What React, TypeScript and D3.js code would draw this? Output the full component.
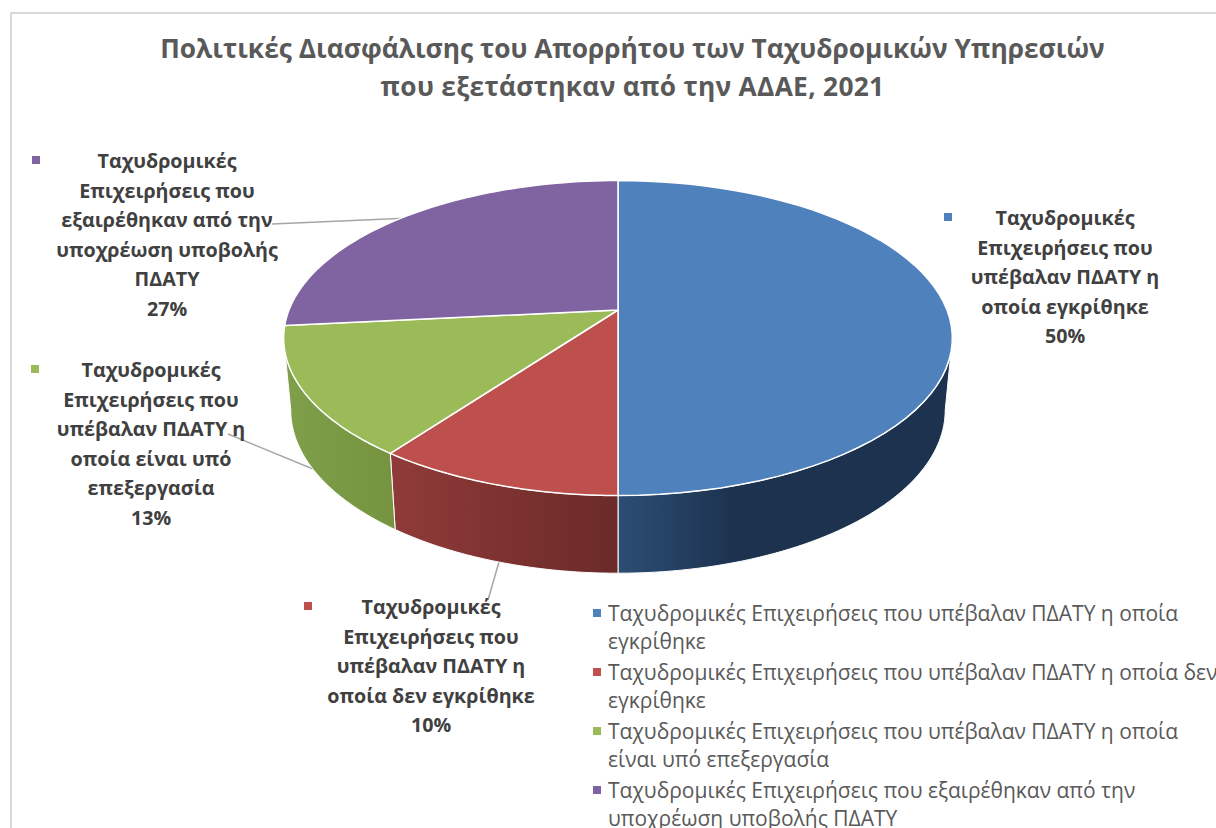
import React from 'react';
import * as d3 from 'd3';

const titleLines = [
  'Πολιτικές Διασφάλισης του Απορρήτου των Ταχυδρομικών Υπηρεσιών',
  'που εξετάστηκαν από την ΑΔΑΕ, 2021',
];
const shares = [50, 10.1, 13.3, 26.6];
const shareLabels = ['50%', '10%', '13%', '27%'];
const colors = ['#4f81bd', '#bd4f4c', '#9bbb59', '#8064a2'];
const sideStops = [
  ['#2c4e74', '#1c324f'],
  ['#903b39', '#6a2a28'],
  ['#7f9f4b', '#769440'],
  ['#5f4a7a', '#5f4a7a'],
];
const labelLines = [
  ['Ταχυδρομικές', 'Επιχειρήσεις που', 'υπέβαλαν ΠΔΑΤΥ η', 'οποία εγκρίθηκε'],
  ['Ταχυδρομικές', 'Επιχειρήσεις που', 'υπέβαλαν ΠΔΑΤΥ η', 'οποία δεν εγκρίθηκε'],
  ['Ταχυδρομικές', 'Επιχειρήσεις που', 'υπέβαλαν ΠΔΑΤΥ η', 'οποία είναι υπό', 'επεξεργασία'],
  ['Ταχυδρομικές', 'Επιχειρήσεις που', 'εξαιρέθηκαν από την', 'υποχρέωση υποβολής', 'ΠΔΑΤΥ'],
];
const legendLines = [
  ['Ταχυδρομικές Επιχειρήσεις που υπέβαλαν ΠΔΑΤΥ η οποία', 'εγκρίθηκε'],
  ['Ταχυδρομικές Επιχειρήσεις που υπέβαλαν ΠΔΑΤΥ η οποία δεν', 'εγκρίθηκε'],
  ['Ταχυδρομικές Επιχειρήσεις που υπέβαλαν ΠΔΑΤΥ η οποία', 'είναι υπό επεξεργασία'],
  ['Ταχυδρομικές Επιχειρήσεις που εξαιρέθηκαν από την', 'υποχρέωση υποβολής ΠΔΑΤΥ'],
];

// label placement: text centre, first line centre, marker x
const labelPos = [
  { cx: 1065, y: 218, mx: 948 },
  { cx: 431, y: 607, mx: 308 },
  { cx: 151, y: 370, mx: 35 },
  { cx: 167, y: 161, mx: 36 },
];
const leaders = [
  [[272, 224], [410, 218]],
  [[228, 434], [330, 476]],
  [[488, 600], [501, 555]],
];
const legendY = [613, 672, 731, 790];

const font = '"Open Sans", sans-serif';
const perspective = 0.178;
const top = { ax: 329, ay: 152.5, cy: 310 };
const bottom = { ax: 322, ay: 158, cy: 381 };
const cx = 618;

const project = (a: number, p: typeof top): [number, number] => {
  const u = Math.sin(a);
  const v = -Math.cos(a);
  const w = 1 - perspective * v;
  return [cx + (p.ax * u) / w, p.cy + (p.ay * v) / w];
};

const arcPoints = (a0: number, a1: number, p: typeof top) =>
  d3.range(0, 61).map(i => project(a0 + ((a1 - a0) * i) / 60, p));

const line = d3.line();
const slices = d3.pie<number>().sort(null).value(d => d)(shares);

// the wall is only visible between the two silhouette angles
const sideFrom = Math.PI / 2 + Math.asin(perspective);
const sideTo = (3 * Math.PI) / 2 - Math.asin(perspective);

const App = () => (
  <svg
    width={1216}
    height={828}
    style={{ position: 'fixed', left: 0, top: 0, background: '#fff' }}
    fontFamily={font}
  >
    <defs>
      {sideStops.map((s, i) => (
        <linearGradient key={i} id={`side${i}`} x1="0" x2="1" y1="0" y2="0">
          <stop offset="0" stopColor={s[0]} />
          <stop offset={i === 0 ? 0.35 : 1} stopColor={s[1]} />
        </linearGradient>
      ))}
    </defs>
    <rect x={11} y={13} width={1300} height={900} fill="none" stroke="#d9d9d9" strokeWidth={2} />

    {titleLines.map((t, i) => (
      <text
        key={i}
        x={632.5}
        y={58 + i * 38}
        textAnchor="middle"
        fontSize={26.3}
        fontWeight={700}
        fill="#595959"
        letterSpacing={i === 1 ? 0.3 : 0}
      >
        {t}
      </text>
    ))}

    {leaders.map((l, i) => (
      <path key={i} d={line(l as [number, number][]) ?? ''} fill="none" stroke="#a6a6a6" strokeWidth={1.5} />
    ))}

    {slices.map((s, i) => {
      const a0 = Math.max(s.startAngle, sideFrom);
      const a1 = Math.min(s.endAngle, sideTo);
      if (a1 <= a0) return null;
      const pts = [...arcPoints(a0, a1, top), ...arcPoints(a1, a0, bottom)];
      return <path key={i} d={(line(pts) ?? '') + 'Z'} fill={`url(#side${i})`} stroke="#fff" strokeWidth={1} strokeLinejoin="round" />;
    })}

    {slices.map((s, i) => {
      const pts: [number, number][] = [[cx, top.cy], ...arcPoints(s.startAngle, s.endAngle, top)];
      return <path key={i} d={(line(pts) ?? '') + 'Z'} fill={colors[i]} stroke="#fff" strokeWidth={1.5} strokeLinejoin="round" />;
    })}

    {labelLines.map((lines, i) => (
      <g key={i} fontSize={19.7} fontWeight={700} fill="#404040" textAnchor="middle">
        <rect x={labelPos[i].mx - 4} y={labelPos[i].y - 5} width={8} height={8} fill={colors[i]} />
        {[...lines, shareLabels[i]].map((t, j) => (
          <text key={j} x={labelPos[i].cx} y={labelPos[i].y + j * 29.5} dy="0.36em">
            {t}
          </text>
        ))}
      </g>
    ))}

    {legendLines.map((lines, i) => (
      <g key={i} fontSize={21} fill="#595959">
        <rect x={593} y={legendY[i] - 4} width={8} height={8} fill={colors[i]} />
        {lines.map((t, j) => (
          <text key={j} x={608} y={legendY[i] + j * 28.5} dy="0.36em">
            {t}
          </text>
        ))}
      </g>
    ))}
  </svg>
);

export default App;
